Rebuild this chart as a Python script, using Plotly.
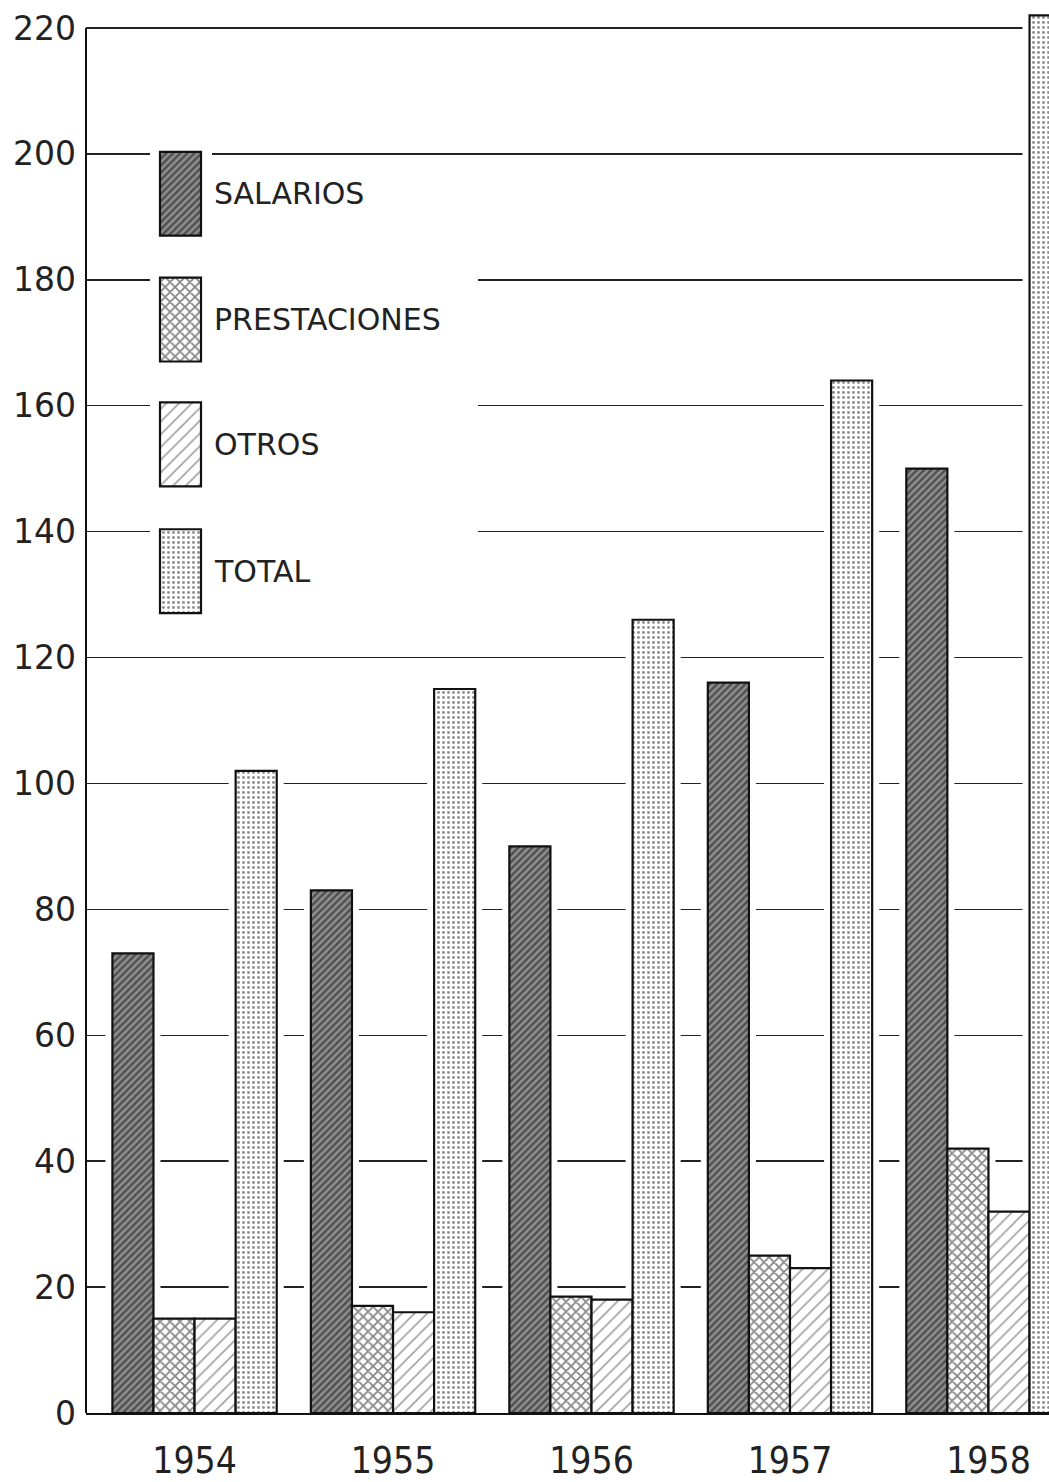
import plotly.graph_objects as go

# ---------------- data ----------------
years = ["1954", "1955", "1956", "1957", "1958"]
salarios = [73, 83, 90, 116, 150]
prestaciones = [15, 17, 18.5, 25, 42]
otros = [15, 16, 18, 23, 32]
total = [102, 115, 126, 164, 222]

series_names = ["SALARIOS", "PRESTACIONES", "OTROS", "TOTAL"]
y_ticks = [0, 20, 40, 60, 80, 100, 120, 140, 160, 180, 200, 220]

# ---------------- styling ----------------
W, H = 1049, 1482
M_L, M_R, M_T, M_B = 86, 0, 0, 67
Y_TOP = 224.44
BAR_W = 0.207
OFFSETS = [-0.414, -0.207, 0.0, 0.207]
PATTERNS = [
    dict(shape="/", fgcolor="#111", bgcolor="#8f8f8f", size=5, solidity=0.5),
    dict(shape="x", fgcolor="#111", bgcolor="white", size=7, solidity=0.45),
    dict(shape="/", fgcolor="#444", bgcolor="white", size=9, solidity=0.18),
    dict(shape=".", fgcolor="#222", bgcolor="white", size=5, solidity=0.28),
]
FONT = "DejaVu Sans, Verdana, sans-serif"
NARROW = "DejaVu Sans Condensed, Liberation Sans Narrow, sans-serif"

values = [salarios, prestaciones, otros, total]

fig = go.Figure()

# white halos (gaps in gridlines around bars)
for vals, off in zip(values, OFFSETS):
    fig.add_trace(go.Bar(
        x=years, y=vals, width=BAR_W, offset=off,
        marker=dict(color="white", line=dict(color="white", width=14)),
        showlegend=False, hoverinfo="skip",
    ))

# actual bars
for name, vals, off, pat in zip(series_names, values, OFFSETS, PATTERNS):
    fig.add_trace(go.Bar(
        x=years, y=vals, width=BAR_W, offset=off, name=name,
        marker=dict(color="white", pattern=pat, line=dict(color="#111", width=2.2)),
        showlegend=False,
    ))

# ---------------- hand-drawn legend (overlay axes in pixel units) ----------------
LEG_X0, LEG_W = 160, 41
LEG_TOPS = [152, 278, 403, 530]
LEG_H = 84
TXT_X = 212
MASKS = [  # (x0, x1, y0, y1) white areas hiding gridlines behind legend
    (150, 212, 140, 245),
    (150, 478, 262, 625),
]

for x0, x1, y0, y1 in MASKS:
    fig.add_trace(go.Bar(
        x=[(x0 + x1) / 2 - M_L], y=[y1 - y0], base=[y0], width=x1 - x0,
        xaxis="x2", yaxis="y2", showlegend=False, hoverinfo="skip",
        marker=dict(color="white", line=dict(width=0)),
    ))

for i, pat in enumerate(PATTERNS):
    fig.add_trace(go.Bar(
        x=[LEG_X0 + LEG_W / 2 - M_L], y=[LEG_H], base=[LEG_TOPS[i]], width=LEG_W,
        xaxis="x2", yaxis="y2", showlegend=False, hoverinfo="skip",
        marker=dict(color="white", pattern=pat, line=dict(color="#111", width=2.2)),
    ))

for i, name in enumerate(series_names):
    fig.add_annotation(
        x=TXT_X - M_L, y=LEG_TOPS[i] + LEG_H / 2, xref="x2", yref="y2",
        text=name, showarrow=False, xanchor="left", yanchor="middle",
        font=dict(family=FONT, size=30, color="#222"),
    )

shapes = [
    # left axis line from 0 to 220
    dict(type="line", xref="x domain", yref="y", x0=0, x1=0, y0=0, y1=220,
         line=dict(color="#111", width=2), layer="above"),
]

fig.update_layout(
    width=W, height=H,
    margin=dict(l=M_L, r=M_R, t=M_T, b=M_B),
    paper_bgcolor="white", plot_bgcolor="white",
    barmode="overlay",
    shapes=shapes,
    xaxis=dict(
        type="category", range=[-0.547, 4.305],
        showgrid=False, zeroline=False,
        showline=True, linecolor="#111", linewidth=2.2,
        ticks="", ticklabelstandoff=13,
        tickfont=dict(family=NARROW, size=37, color="#222"),
    ),
    yaxis=dict(
        range=[0, Y_TOP], tickvals=y_ticks,
        showgrid=True, gridcolor="#222", gridwidth=1.5,
        zeroline=False, showline=False, ticks="",
        ticklabelstandoff=9,
        tickfont=dict(family=FONT, size=33, color="#222"),
    ),
    xaxis2=dict(overlaying="x", range=[0, W - M_L - M_R], visible=False, fixedrange=True),
    yaxis2=dict(overlaying="y", range=[H - M_B, 0], visible=False, fixedrange=True),
)

fig.write_html(
    "out.html",
    config={"displayModeBar": False, "staticPlot": True},
    post_script="document.body.style.margin='0';document.body.style.overflow='hidden';",
)
